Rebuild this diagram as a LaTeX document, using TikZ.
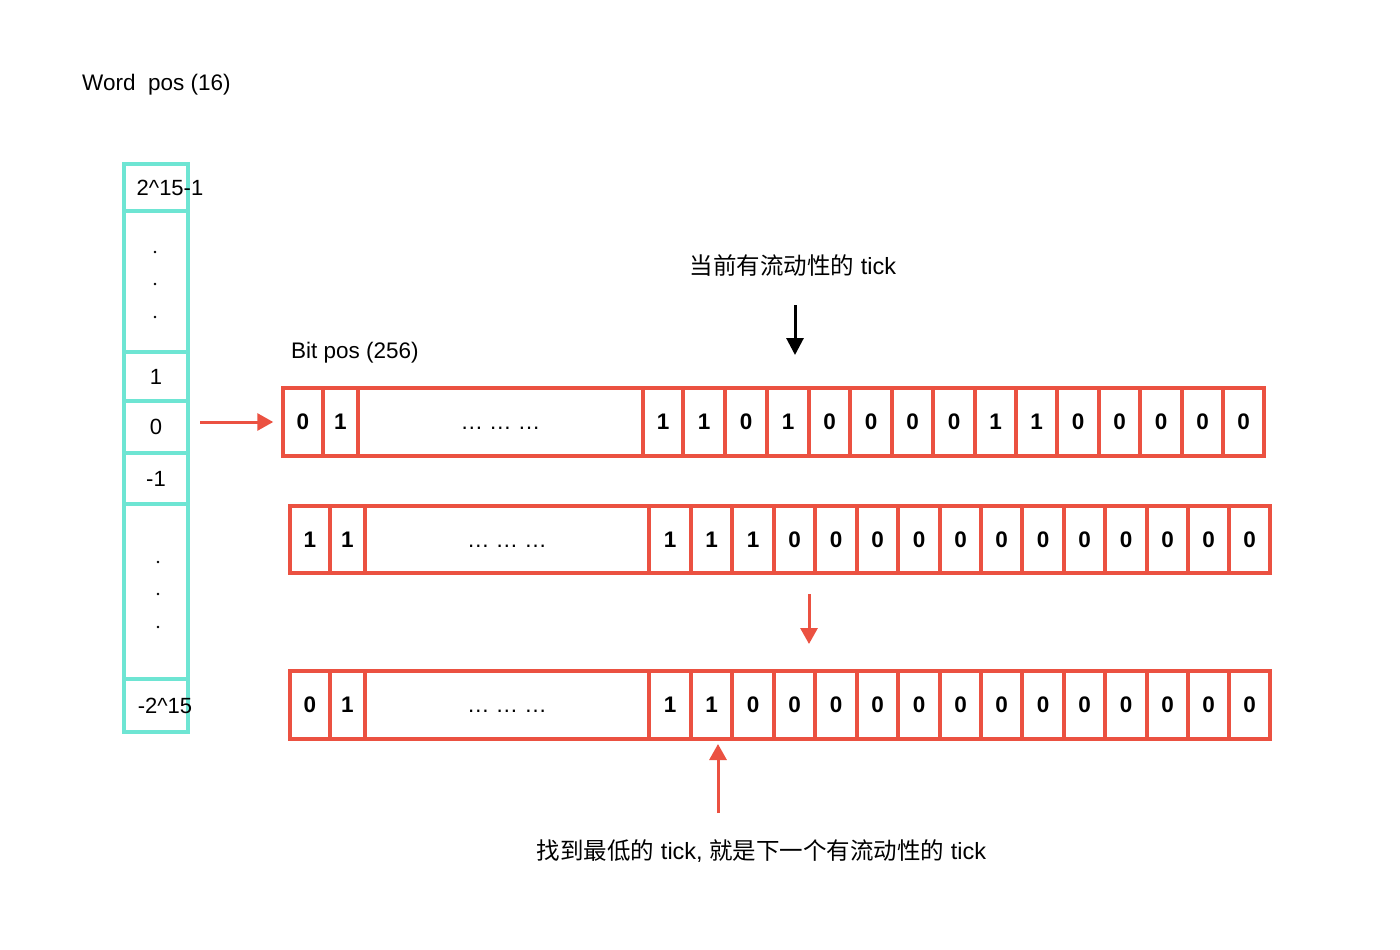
\documentclass[tikz,border=0pt]{standalone}
\usepackage{fontspec}
\setmainfont{Liberation Sans}
\newfontfamily\cjk{Noto Sans CJK SC}
\usetikzlibrary{arrows.meta}
\definecolor{tealc}{HTML}{6EE5D3}
\definecolor{redc}{HTML}{EB5141}
\begin{document}
\begin{tikzpicture}[x=1pt,y=-1pt,
  wcell/.style={draw=tealc, line width=4pt, minimum width=64pt, inner sep=0pt, font=\fontsize{22}{26}\selectfont},
  bcell/.style={draw=redc, line width=3.5pt, inner sep=0pt, font=\fontsize{22.5}{26}\selectfont\bfseries},
  lbl/.style={inner sep=0pt, font=\fontsize{22.5}{26}\selectfont},
  cjklbl/.style={inner sep=0pt, font=\fontsize{23.5}{28}\selectfont},
  redarrow/.style={draw=redc, line width=3pt, -{Triangle[length=16pt,width=17pt]}},
  blkarrow/.style={draw=black, line width=3pt, -{Triangle[length=17pt,width=17pt]}},
  dotc/.style={circle, fill=black, inner sep=0pt, minimum size=2.6pt}
]
\useasboundingbox[fill=white] (0,0) rectangle (1400,950);

% labels
\node[lbl, anchor=west] (wordpos) at (82,85) {Word\hspace{0.56em}pos (16)};
\node[lbl, anchor=west] (bitpos) at (291,352.5) {Bit pos (256)};
\node[cjklbl] (curtick) at (793,266) {{\cjk 当前有流动性的} tick};
\node[cjklbl] (nexttick) at (761.5,851) {{\cjk 找到最低的} tick, {\cjk 就是下一个有流动性的} tick};

% word column
\node[wcell, minimum height=47pt] (w1) at (156,187.5) {\makebox[0pt]{\hspace*{28pt}2\textasciicircum15-1}};
\node[wcell, minimum height=141pt] (wd1) at (156,281.5) {};
\node[wcell, minimum height=49pt] (wp1) at (156,376.5) {1};
\node[wcell, minimum height=52pt] (w0) at (156,427) {0};
\node[wcell, minimum height=51pt] (wm1) at (156,478.5) {-1};
\node[wcell, minimum height=175pt] (wd2) at (156,591.5) {};
\node[wcell, minimum height=53pt] (wlast) at (156,705.5) {\makebox[0pt]{\hspace*{18pt}-2\textasciicircum15}};
\foreach \y [count=\i] in {252,284,317} \node[dotc] (da\i) at (155,\y) {};
\foreach \y [count=\i] in {562,594,627} \node[dotc] (db\i) at (158,\y) {};

% bit rows
\foreach \a/\b/\v [count=\i] in {283/323/0,323/358/1,358/643/{\mdseries\vphantom{0}\dots\ \dots\ \dots},
  643/683/1,683/725/1,725/767/0,767/809/1,809/850/0,850/892/0,892/933/0,933/975/0,
  975/1016/1,1016/1057/1,1057/1099/0,1099/1140/0,1140/1182/0,1182/1223/0,1223/1264/0}
  \node[bcell, minimum width={(\b-\a)*1pt}, minimum height=68pt] (ra\i) at ({(\a+\b)/2},422) {\v};

\foreach \a/\b/\v [count=\i] in {290/330/1,330/365/1,365/649/{\mdseries\vphantom{0}\dots\ \dots\ \dots},
  649/691/1,691/732/1,732/774/1,774/815/0,815/857/0,857/898/0,898/940/0,940/981/0,
  981/1022/0,1022/1064/0,1064/1105/0,1105/1147/0,1147/1188/0,1188/1229/0,1229/1270/0}
  \node[bcell, minimum width={(\b-\a)*1pt}, minimum height=67pt] (rb\i) at ({(\a+\b)/2},539.5) {\v};

\foreach \a/\b/\v [count=\i] in {290/330/0,330/365/1,365/649/{\mdseries\vphantom{0}\dots\ \dots\ \dots},
  649/691/1,691/732/1,732/774/0,774/815/0,815/857/0,857/898/0,898/940/0,940/981/0,
  981/1022/0,1022/1064/0,1064/1105/0,1105/1147/0,1147/1188/0,1188/1229/0,1229/1270/0}
  \node[bcell, minimum width={(\b-\a)*1pt}, minimum height=68pt] (rc\i) at ({(\a+\b)/2},705) {\v};

% arrows
\draw[redarrow] ([xshift=10pt]w0.east |- ra1.west) -- ([xshift=-8pt]ra1.west);
\coordinate (k1) at (795,305);
\coordinate (k2) at (795,355);
\draw[blkarrow] (k1) -- (k2);
\coordinate (m1) at (809,594);
\coordinate (m2) at (809,644);
\draw[redarrow] (m1) -- (m2);
\coordinate (u1) at (718,813);
\coordinate (u2) at (718,744);
\draw[redarrow] (u1) -- (u2);
\end{tikzpicture}
\end{document}
